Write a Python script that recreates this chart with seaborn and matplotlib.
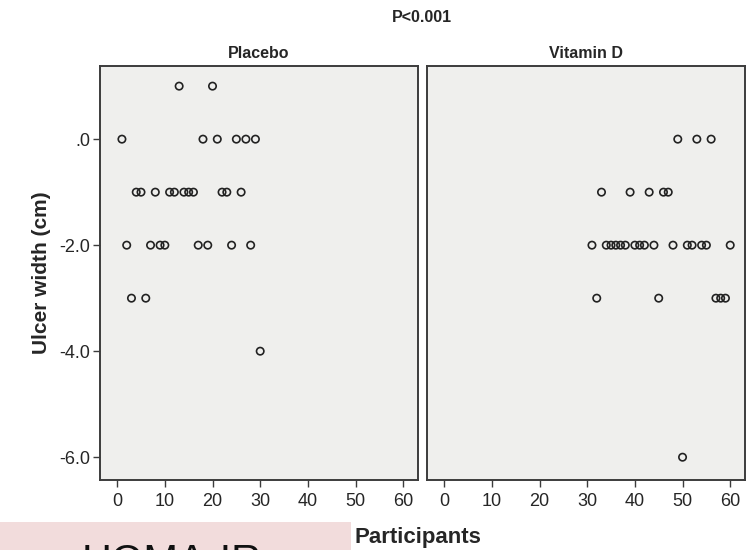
import matplotlib
matplotlib.use("Agg")
import matplotlib.pyplot as plt
import matplotlib.patches as mpatches
from matplotlib import font_manager
import pandas as pd
import seaborn as sns

# ---- data ----
groups = ["Placebo", "Vitamin D"]
placebo_participants = list(range(1, 31))
placebo_width = [0, -2, -3, -1, -1, -3, -2, -1, -2, -2,
                 -1, -1, 1, -1, -1, -1, -2, 0, -2, 1,
                 0, -1, -1, -2, 0, -1, 0, -2, 0, -4]
vitd_participants = list(range(31, 61))
vitd_width = [-2, -3, -1, -2, -2, -2, -2, -2, -1, -2,
              -2, -2, -1, -2, -3, -1, -1, -2, 0, -6,
              -2, -2, 0, -2, -2, 0, -3, -3, -3, -2]
x_ticks = [0, 10, 20, 30, 40, 50, 60]
y_ticks = [0, -2, -4, -6]
y_ticklabels = [".0", "-2.0", "-4.0", "-6.0"]

df = pd.concat([
    pd.DataFrame({"Participants": placebo_participants, "Ulcer width": placebo_width, "Group": groups[0]}),
    pd.DataFrame({"Participants": vitd_participants, "Ulcer width": vitd_width, "Group": groups[1]}),
])

sns.set_style("white")
plt.rcParams["font.family"] = ["Liberation Sans", "DejaVu Sans"]

installed = {f.name for f in font_manager.fontManager.ttflist}
has_narrow = "Liberation Sans Narrow" in installed
narrow = ["Liberation Sans Narrow", "Liberation Sans", "DejaVu Sans"] if has_narrow else ["Liberation Sans", "DejaVu Sans"]
tick_fs = 15 if has_narrow else 13
lab_fs = 17 if has_narrow else 15

W, H = 746, 550
fig = plt.figure(figsize=(W / 100, H / 100), dpi=100)

def ax_rect(x0, x1, y0, y1):
    return [x0 / W, 1 - y1 / H, (x1 - x0) / W, (y1 - y0) / H]

axes = [fig.add_axes(ax_rect(100, 418, 66, 480)),
        fig.add_axes(ax_rect(427, 745, 66, 480))]

face = "#efefed"
edge = "#3c3c3c"
for i, (ax, g) in enumerate(zip(axes, groups)):
    sub = df[df["Group"] == g]
    sns.scatterplot(data=sub, x="Participants", y="Ulcer width", ax=ax,
                    marker="o", s=28, facecolor="none", edgecolor="#222222",
                    linewidth=1.2, legend=False, zorder=3)
    ax.set_facecolor(face)
    ax.set_xlim(-3.6, 63.1)
    ax.set_ylim(-6.43, 1.38)
    ax.set_xticks(x_ticks)
    ax.set_xticklabels([str(t) for t in x_ticks], fontsize=tick_fs, family=narrow)
    ax.set_yticks(y_ticks)
    if i == 0:
        ax.set_yticklabels(y_ticklabels, fontsize=tick_fs, family=narrow)
        ax.tick_params(axis="y", length=5, width=1.0, color=edge, left=True, pad=2)
    else:
        ax.set_yticklabels([])
        ax.tick_params(axis="y", left=False)
    ax.tick_params(axis="x", length=5, width=1.0, color=edge, bottom=True, pad=4)
    for sp in ax.spines.values():
        sp.set_color(edge)
        sp.set_linewidth(1.4)
        sp.set_visible(True)
    ax.set_xlabel("")
    ax.set_ylabel("")
    ax.set_title(g, fontsize=12 if has_narrow else 11.5, fontweight="bold", pad=6, family=narrow)

axes[0].set_ylabel("Ulcer width (cm)", fontsize=lab_fs, fontweight="bold", labelpad=6, family=narrow)

fig.text(422 / W, 1 - 17 / H, "P<0.001", ha="center", va="center",
         fontsize=12 if has_narrow else 11.5, fontweight="bold", family=narrow)
fig.text(355 / W, 1 - 537 / H, "Participants", ha="left", va="center",
         fontsize=lab_fs + 1, fontweight="bold", family=narrow)

# pink box with partially visible caption at the bottom left
fig.patches.append(mpatches.Rectangle((0, 0), 351 / W, (H - 522) / H,
                                      transform=fig.transFigure, facecolor="#f2dcdc",
                                      edgecolor="none", zorder=0))
fig.text(172 / W, 1 - 574 / H, "HOMA-IR", ha="center", va="baseline",
         fontsize=30, color="#111111")

fig.savefig("out.png", dpi=100)
